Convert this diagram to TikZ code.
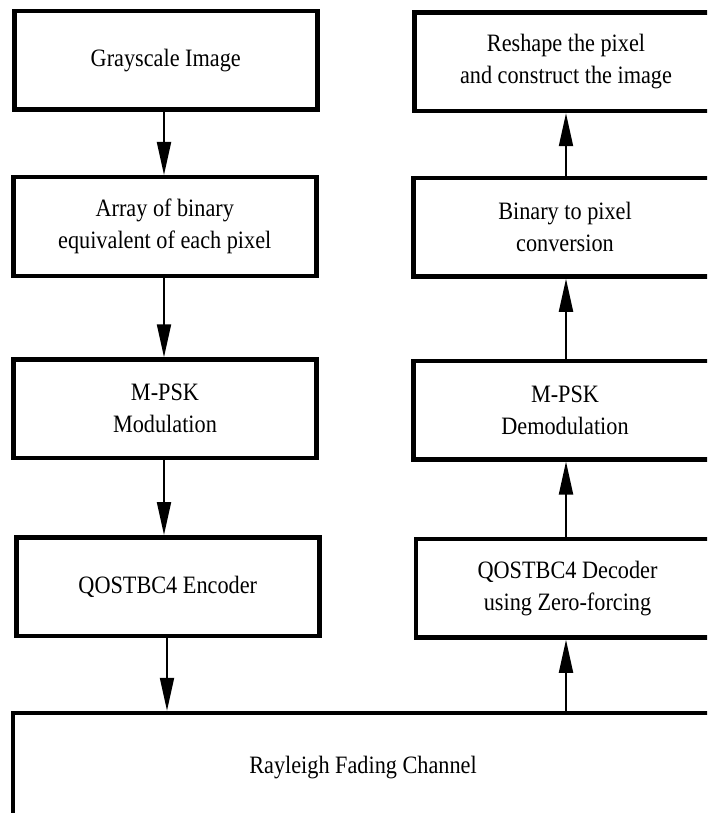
\documentclass[tikz,border=0pt]{standalone}
\usepackage{fontspec}
\setmainfont{Liberation Serif}[FakeStretch=0.89]
\usetikzlibrary{arrows.meta}

\tikzset{
  block/.style={draw=black, line width=4.5pt, fill=white, rectangle,
    minimum width=303pt, minimum height=98.5pt, inner sep=0pt,
    align=center, font=\fontsize{25}{32}\selectfont},
  flow/.style={line width=2pt, -{Triangle[length=33pt,width=14pt]}}
}

\begin{document}
\begin{tikzpicture}[x=1pt, y=-1pt]
  \useasboundingbox (0,0) rectangle (707,813);
  \clip (0,0) rectangle (707,813);
  \fill[white] (0,0) rectangle (707,813);

  % transmitter chain
  \node[block] (gray) at (165.75,60.5)  {Grayscale Image};
  \node[block] (bin)  at (164.75,226.5) {Array of binary\\equivalent of each pixel};
  \node[block] (mod)  at (165,408.75)   {M-PSK\\Modulation};
  \node[block] (enc)  at (167.75,586.5) {QOSTBC4 Encoder};

  % channel
  \node[block, minimum width=700pt, minimum height=110pt] (ray) at (363,768) {Rayleigh Fading Channel};

  % receiver chain
  \node[block] (rec)   at (566,61.75)  {Reshape the pixel\\and construct the image};
  \node[block] (b2p)   at (565,227.25) {Binary to pixel\\conversion};
  \node[block] (demod) at (565,410)    {M-PSK\\Demodulation};
  \node[block] (dec)   at (567.5,588.25) {QOSTBC4 Decoder\\using Zero-forcing};

  % vertical lanes of the two chains
  \coordinate (lane L) at (164,0);
  \coordinate (lane L2) at (167,0);
  \coordinate (lane R) at (566,0);

  % connectors, kept vertical along the lanes
  \draw[flow] (gray.south -| lane L) -- (bin.north -| lane L);
  \draw[flow] (bin.south -| lane L) -- (mod.north -| lane L);
  \draw[flow] (mod.south -| lane L) -- (enc.north -| lane L);
  \draw[flow] (enc.south -| lane L2) -- (ray.north -| lane L2);
  \draw[flow] (ray.north -| lane R) -- (dec.south -| lane R);
  \draw[flow] (dec.north -| lane R) -- (demod.south -| lane R);
  \draw[flow] (demod.north -| lane R) -- (b2p.south -| lane R);
  \draw[flow] (b2p.north -| lane R) -- (rec.south -| lane R);
\end{tikzpicture}
\end{document}
